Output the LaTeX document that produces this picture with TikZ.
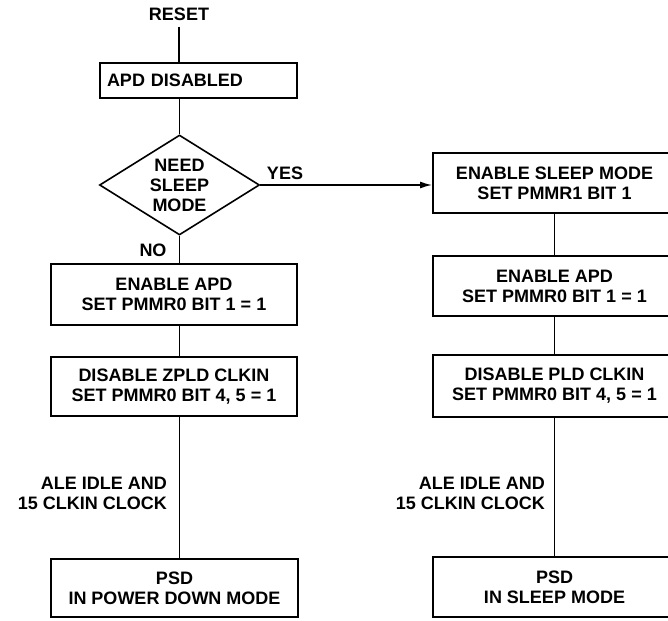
\documentclass[tikz,border=0pt]{standalone}
\usepackage{fontspec}
\setmainfont{Liberation Sans}
\usetikzlibrary{shapes.geometric,arrows.meta}
\begin{document}
\begin{tikzpicture}[x=1pt,y=-1pt,
  every node/.style={font=\fontsize{18}{20}\selectfont\bfseries, align=center, inner sep=0pt},
  procbox/.style={draw, rectangle, line width=2pt},
  decbox/.style={draw, diamond, aspect=1.6, line width=1.6pt, minimum width=160pt, minimum height=100pt, inner sep=0pt},
  conn/.style={draw, line width=1.4pt},
  arr/.style={conn, -{Latex[length=12pt,width=7pt]}}]
\useasboundingbox (0,0) rectangle (668,620);
% left column
\node (reset) at (179,14) {RESET};
\node[procbox, text width=183pt, align=left, inner xsep=7pt, minimum height=35pt] (apd) at (198.5,80.5) {APD DISABLED};
\node[decbox] (dec) at (179.5,185) {NEED\\SLEEP\\MODE};
\node (yes) at (285,173) {YES};
\node (no) at (153,250) {NO};
\node[procbox, minimum width=246pt, minimum height=61pt] (enl) at (174,294.5) {ENABLE APD\\SET PMMR0 BIT 1 = 1};
\node[procbox, minimum width=246pt, minimum height=59pt] (disl) at (174,386.5) {DISABLE ZPLD CLKIN\\SET PMMR0 BIT 4, 5 = 1};
\node[anchor=east, align=right] (alel) at (167,493) {ALE IDLE AND\\15 CLKIN CLOCK};
\node[procbox, minimum width=247pt, minimum height=58pt] (psdl) at (174.5,588) {PSD\\IN POWER DOWN MODE};
% right column
\node[procbox, minimum width=243pt, minimum height=60pt] (sleep) at (554.5,183) {ENABLE SLEEP MODE\\SET PMMR1 BIT 1};
\node[procbox, minimum width=243pt, minimum height=60pt] (apdr) at (554.5,286) {ENABLE APD\\SET PMMR0 BIT 1 = 1};
\node[procbox, minimum width=243pt, minimum height=62pt] (pldr) at (554.5,386) {DISABLE PLD CLKIN\\SET PMMR0 BIT 4, 5 = 1};
\node[anchor=east, align=right] (aler) at (545,493) {ALE IDLE AND\\15 CLKIN CLOCK};
\node[procbox, minimum width=243pt, minimum height=60pt] (psdr) at (554.5,587) {PSD\\IN SLEEP MODE};
% connectors
\draw[conn, shorten <=6pt] (reset) -- (reset |- apd.north);
\draw[conn] (apd.south -| dec.north) -- (dec.north);
\draw[arr] (dec.east) -- (dec.east -| sleep.west);
\draw[conn] (dec.south) -- (dec.south |- enl.north);
\draw[conn] (enl.south -| dec.south) -- (disl.north -| dec.south);
\draw[conn] (disl.south -| dec.south) -- (psdl.north -| dec.south);
\draw[conn] (sleep.south) -- (apdr.north);
\draw[conn] (apdr.south) -- (pldr.north);
\draw[conn] (pldr.south) -- (psdr.north);
\end{tikzpicture}
\end{document}
